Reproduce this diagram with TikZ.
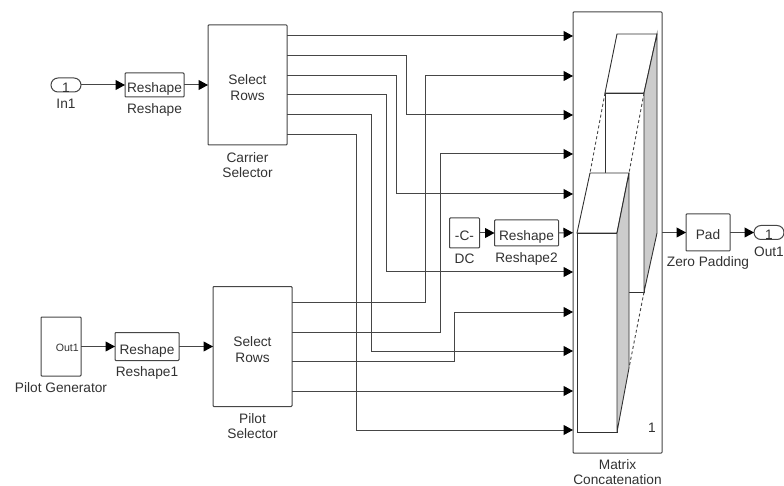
\documentclass[tikz,border=0pt]{standalone}
\usepackage{fontspec}
\setmainfont{Liberation Sans}
\usetikzlibrary{positioning,arrows.meta}
\definecolor{ink}{RGB}{70,70,70}
\definecolor{inktext}{RGB}{50,50,50}
\definecolor{sidegray}{RGB}{204,204,204}
\begin{document}
\begin{tikzpicture}[
  x=1pt,y=-1pt,
  font=\fontsize{13.7}{16}\selectfont,
  text=inktext,
  >={Triangle[length=9.5pt,width=10pt,color=black]},
  block/.style={draw=ink,fill=white,line width=1pt,inner sep=0pt,outer sep=0pt,align=center,rounded corners=0.8pt,text height=15pt,text depth=0pt},
  bigblock/.style={draw=ink,fill=white,line width=1pt,inner sep=0pt,outer sep=0pt,rounded corners=0.8pt},
  portbox/.style={bigblock,minimum width=30pt,minimum height=14pt,rounded corners=7pt},
  blockname/.style={inner sep=0pt,align=center,font=\fontsize{13.7}{15}\selectfont},
  wire/.style={draw=ink,line width=1pt},
  flow/.style={wire,->},
  iconface/.style={draw=ink!70!black,line width=0.9pt,fill=white},
  iconside/.style={draw=ink!70!black,line width=0.9pt,fill=sidegray},
  icondash/.style={draw=ink,line width=0.9pt,dash pattern=on 3pt off 2.5pt},
]
\useasboundingbox (0,0) rectangle (784,486);
% ---- carrier row ----
\node[portbox] (in1) at (66,85) {};
\node[inner sep=0pt,below=-9.5pt of in1] (in1num) {1};
\node[block,minimum width=59pt,minimum height=24pt,right=44pt of in1] (reshape) {Reshape};
\node[bigblock,minimum width=79pt,minimum height=120pt,right=24pt of reshape] (carrier) {};
\node[inner sep=0pt,align=center] (carriertxt) at ([yshift=-3pt]carrier.center) {Select\\Rows};
\node[blockname,below=7pt of in1] (in1name) {In1};
\node[blockname,below=6pt of reshape] (reshapename) {Reshape};
\node[blockname,below=7pt of carrier] (carriername) {Carrier\\Selector};
% ---- pilot row ----
\node[bigblock,minimum width=40pt,minimum height=59pt] (pilotgen) at (61,346.5) {};
\node[inner sep=0pt,font=\fontsize{10.6}{12}\selectfont,anchor=east] (pilotout) at ([xshift=-2pt,yshift=-1.5pt]pilotgen.east) {Out1};
\node[block,minimum width=64pt,minimum height=28pt,right=34pt of pilotgen] (reshapeone) {Reshape};
\node[bigblock,minimum width=79pt,minimum height=120pt,right=34pt of reshapeone] (pilot) {};
\node[inner sep=0pt,align=center] (pilottxt) at ([yshift=-3pt]pilot.center) {Select\\Rows};
\node[blockname,below=6pt of pilotgen] (pilotgenname) {Pilot Generator};
\node[blockname,below=6pt of reshapeone] (reshapeonename) {Reshape1};
\node[blockname,below=7pt of pilot] (pilotname) {Pilot\\Selector};
% ---- concatenation and output ----
\node[bigblock,minimum width=89pt,minimum height=441pt] (concat) at (617.5,232.5) {};
\node[block,minimum width=30pt,minimum height=30pt] (dc) at (464.5,233) {-C-};
\node[block,minimum width=64pt,minimum height=26pt,right=15pt of dc] (reshapetwo) {Reshape};
\node[block,minimum width=44pt,minimum height=37pt,right=24pt of concat] (pad) {Pad};
\node[portbox,right=24pt of pad] (out1) {};
\node[inner sep=0pt,below=-9.5pt of out1] (out1num) {1};
\node[blockname,below=6pt of dc] (dcname) {DC};
\node[blockname,below=6pt of reshapetwo] (reshapetwoname) {Reshape2};
\node[blockname,below=5pt of pad] (padname) {Zero Padding};
\node[blockname,below=7pt of out1] (out1name) {Out1};
\node[blockname,below=6pt of concat] (concatname) {Matrix\\Concatenation};
\node[inner sep=0pt,anchor=south east] (concatnum) at ([xshift=-6pt,yshift=20pt]concat.south east) {1};
% matrix icon, back block then front block
\draw[iconface] (605,93) rectangle (644,292);
\draw[iconface] (605,93) -- (617,34) -- (657,34) -- (644,93) -- cycle;
\draw[iconside] (644,93) -- (657,34) -- (657,233) -- (644,292) -- cycle;
\draw[iconface] (577,233) rectangle (617,432);
\draw[iconface] (577,233) -- (590,173) -- (629,173) -- (617,233) -- cycle;
\draw[iconside] (617,233) -- (629,173) -- (629,368) -- (617,432) -- cycle;
\draw[icondash] (605,93) -- (590,173);
\draw[icondash] (644,93) -- (629,173);
\draw[icondash] (644,292) -- (629,368);
% ports
\foreach \i/\y in {1/36,2/76,3/115,4/154,5/194,7/272,8/312,9/351,10/391,11/430}
  \coordinate (cin\i) at (concat.west |- 0,\y);
\foreach \i/\y in {1/36,2/56,3/76,4/95,5/115,6/135}
  \coordinate (cs\i) at (carrier.east |- 0,\y);
\foreach \i/\y in {1/302,2/332,3/361,4/391}
  \coordinate (ps\i) at (pilot.east |- 0,\y);
% ---- wiring ----
\draw[flow] (in1) -- (reshape);
\draw[flow] (reshape) -- (carrier);
\draw[flow] (pilotgen) -- (reshapeone);
\draw[flow] (reshapeone) -- (pilot);
\draw[flow] (dc) -- (reshapetwo);
\draw[flow] (reshapetwo) -- (concat);
\draw[flow] (concat) -- (pad);
\draw[flow] (pad) -- (out1);
\draw[flow] (cs1) -- (cin1);
\draw[flow] (ps4) -- (cin10);
\foreach \a/\x/\b in {cs2/406/cin3,cs3/396/cin5,cs4/386/cin7,cs5/371/cin9,cs6/356/cin11,ps1/425/cin2,ps2/440/cin4,ps3/454/cin8}
  \draw[flow] (\a) -| (\x,0 |- \b) -- (\b);
\end{tikzpicture}
\end{document}
